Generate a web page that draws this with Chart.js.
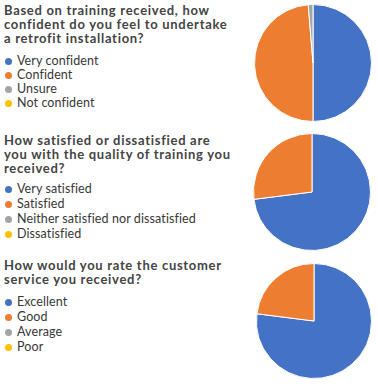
<!DOCTYPE html>
<html>
<head>
<meta charset="utf-8">
<script src="https://cdn.jsdelivr.net/npm/chart.js@4"></script>
<style>
  body { margin: 0; background: #fff; width: 378px; height: 386px; position: relative; overflow: hidden; font-family: Lato, "Noto Sans", sans-serif; }
  .title { position: absolute; left: 4px; margin: 0; font-size: 13px; font-weight: 700; line-height: 14px; letter-spacing: 0.7px; color: #444; }
  .legend { position: absolute; left: 5px; margin: 0; padding: 0; list-style: none; font-size: 12.5px; letter-spacing: 0.1px; color: #383838; }
  .legend li { height: 14px; line-height: 14px; white-space: nowrap; }
  .legend .dot { display: inline-block; width: 7px; height: 7px; border-radius: 50%; margin-right: 5px; vertical-align: 0px; }
  canvas { position: absolute; }
</style>
</head>
<body>

<h3 class="title" style="top:3px">Based on training received, how<br>confident do you feel to undertake<br>a retrofit installation?</h3>
<ul class="legend" id="legend1" style="top:54px"></ul>
<canvas id="pie1" width="118" height="118" style="left:254px;top:4px"></canvas>

<h3 class="title" style="top:133px">How satisfied or dissatisfied are<br>you with the quality of training you<br>received?</h3>
<ul class="legend" id="legend2" style="top:181px"></ul>
<canvas id="pie2" width="118" height="118" style="left:253px;top:133px"></canvas>

<h3 class="title" style="top:258px">How would you rate the customer<br>service you received?</h3>
<ul class="legend" id="legend3" style="top:294px"></ul>
<canvas id="pie3" width="116" height="116" style="left:256px;top:263px"></canvas>

<script>
const colors = ['#4472c4', '#ed7d31', '#a5a5a5', '#ffc000'];

// Q1 confidence
const confidenceLabels = ['Very confident', 'Confident', 'Unsure', 'Not confident'];
const confidenceValues = [50, 48.7, 1.3, 0];

// Q2 satisfaction
const satisfactionLabels = ['Very satisfied', 'Satisfied', 'Neither satisfied nor dissatisfied', 'Dissatisfied'];
const satisfactionValues = [73, 27, 0, 0];

// Q3 customer service
const serviceLabels = ['Excellent', 'Good', 'Average', 'Poor'];
const serviceValues = [77, 23, 0, 0];

function buildLegend(id, labels, rowHeight) {
    const ul = document.getElementById(id);
    labels.forEach((label, i) => {
        const li = document.createElement('li');
        li.style.height = rowHeight + 'px';
        li.style.lineHeight = rowHeight + 'px';
        const dot = document.createElement('span');
        dot.className = 'dot';
        dot.style.background = colors[i];
        li.appendChild(dot);
        li.appendChild(document.createTextNode(label));
        ul.appendChild(li);
    });
}

function makePie(id, labels, values) {
    new Chart(document.getElementById(id), {
        type: 'pie',
        data: {
            labels: labels,
            datasets: [{
                data: values,
                backgroundColor: colors,
                borderColor: '#fff',
                borderWidth: 1
            }]
        },
        options: {
            responsive: false,
            animation: false,
            layout: { padding: 0 },
            plugins: {
                legend: { display: false },
                tooltip: { enabled: false }
            }
        }
    });
}

buildLegend('legend1', confidenceLabels, 14);
buildLegend('legend2', satisfactionLabels, 15);
buildLegend('legend3', serviceLabels, 15);

makePie('pie1', confidenceLabels, confidenceValues);
makePie('pie2', satisfactionLabels, satisfactionValues);
makePie('pie3', serviceLabels, serviceValues);
</script>
</body>
</html>
